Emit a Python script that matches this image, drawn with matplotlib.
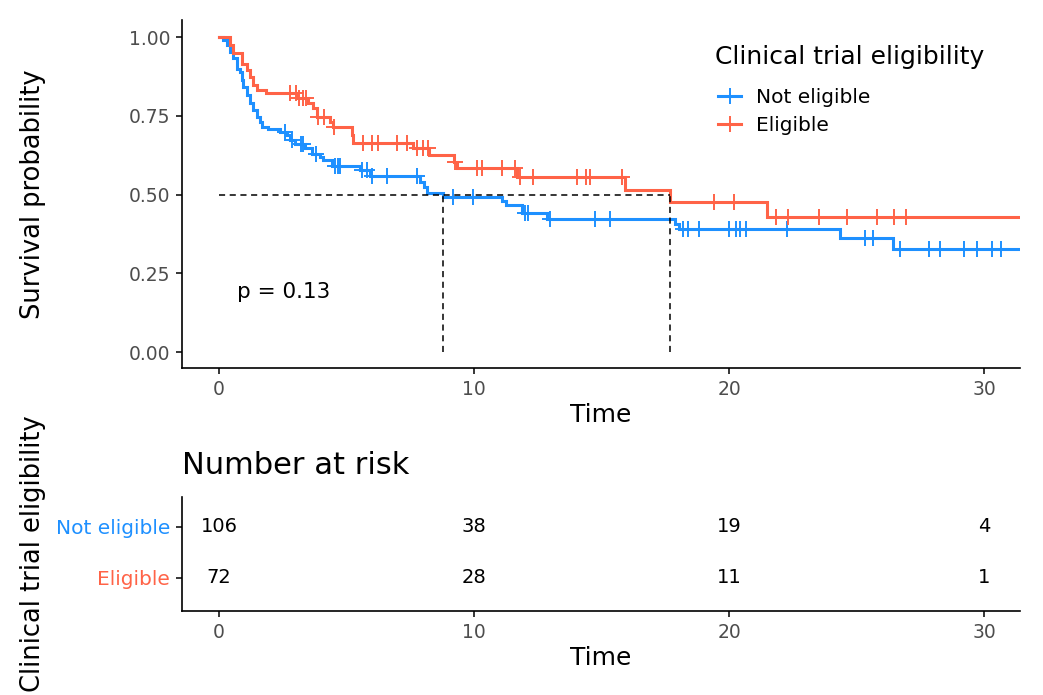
import matplotlib
matplotlib.use("Agg")
import matplotlib.pyplot as plt
from matplotlib.lines import Line2D
import numpy as np

plt.rcParams['font.family'] = ['DejaVu Sans']

# Kaplan-Meier step data: (time of drop, survival after drop)
ne_times = [0.17, 0.3, 0.43, 0.56, 0.69, 0.82, 0.89, 0.95, 1.08, 1.22, 1.35, 1.48, 1.61,
            1.67, 1.93, 2.39, 2.65, 2.78, 2.98, 3.37, 3.63, 3.96, 4.09, 4.42, 5.53, 5.92,
            7.88, 8.02, 8.15, 8.8, 11.08, 11.27, 11.87, 12.85, 17.88, 18.05, 24.35, 26.42]
ne_surv = [0.99, 0.975, 0.953, 0.932, 0.90, 0.89, 0.864, 0.842, 0.816, 0.79, 0.768, 0.747, 0.731,
           0.716, 0.707, 0.70, 0.689, 0.673, 0.66, 0.647, 0.63, 0.62, 0.61, 0.59, 0.578, 0.559,
           0.54, 0.525, 0.506, 0.494, 0.481, 0.467, 0.443, 0.424, 0.408, 0.392, 0.364, 0.329]
ne_censor = [2.59, 2.85, 3.2, 3.3, 3.8, 4.55, 4.65, 4.75, 5.6, 5.8, 6.0, 6.57, 7.75, 9.19, 9.97,
             12.0, 12.13, 12.98, 14.75, 15.33, 18.2, 18.4, 18.83, 20.0, 20.27, 20.43, 20.67,
             22.26, 25.33, 25.63, 26.68, 27.82, 28.27, 29.2, 29.71, 30.3, 30.67]

el_times = [0.43, 0.56, 0.89, 1.08, 1.22, 1.35, 1.48, 1.84, 3.05, 3.5, 3.7, 3.83, 4.35, 4.48,
            5.2, 5.26, 7.6, 8.24, 9.2, 9.32, 11.67, 15.92, 17.69, 21.47]
el_surv = [0.975, 0.948, 0.916, 0.895, 0.874, 0.848, 0.832, 0.821, 0.805, 0.792, 0.774, 0.747,
           0.731, 0.713, 0.689, 0.665, 0.647, 0.625, 0.604, 0.583, 0.557, 0.516, 0.477, 0.43]
el_censor = [2.78, 3.0, 3.15, 3.3, 3.4, 3.9, 4.1, 4.5, 5.66, 5.99, 6.25, 6.97, 7.36, 7.75, 8.01,
             8.2, 9.25, 10.1, 10.3, 11.08, 11.6, 11.8, 12.3, 14.03, 14.4, 14.55, 15.8, 19.42,
             20.2, 21.84, 22.29, 23.53, 24.61, 25.79, 26.47, 26.94]

medians = [8.8, 17.69]
groups = ["Not eligible", "Eligible"]
colors = ["#1E90FF", "#FF6347"]

risk_times = [0, 10, 20, 30]
risk_ne = [106, 38, 19, 4]
risk_el = [72, 28, 11, 1]

W, H = 1043, 695
fig = plt.figure(figsize=(W / 100, H / 100), dpi=100)
ax = fig.add_axes([182 / W, 1 - 368 / H, 838 / W, 348 / H])
ax2 = fig.add_axes([182 / W, 1 - 611 / H, 838 / W, 114 / H])

xmax = 31.4
tick_col = "#4D4D4D"


def surv_at(t, times, surv):
    idx = np.searchsorted(times, t, side="right")
    vals = np.concatenate([[1.0], surv])
    return vals[idx]


curves = [(ne_times, ne_surv, ne_censor), (el_times, el_surv, el_censor)]
for (tt, ss, cc), col in zip(curves, colors):
    x = [0] + tt + [33]
    y = [1.0] + ss + [ss[-1]]
    ax.step(x, y, where="post", color=col, lw=2.2, solid_joinstyle="miter")
    cy = surv_at(np.array(cc), np.array(tt), np.array(ss))
    ax.plot(cc, cy, ls="none", marker="+", ms=11, mew=1.4, color=col)

# median lines
ax.plot([0, max(medians)], [0.5, 0.5], ls=(0, (4, 3)), color="black", lw=1.1)
for m in medians:
    ax.plot([m, m], [0, 0.5], ls=(0, (4, 3)), color="black", lw=1.1)

ax.text(0.7, 0.19, "p = 0.13", fontsize=15.5, va="center", ha="left")

ax.set_xlim(-1.45, xmax)
ax.set_ylim(-0.05, 1.054)
ax.set_xticks([0, 10, 20, 30])
ax.set_yticks([0, 0.25, 0.5, 0.75, 1.0])
ax.set_yticklabels(["0.00", "0.25", "0.50", "0.75", "1.00"])
ax.set_xlabel("Time", fontsize=18, labelpad=3)

for a in (ax, ax2):
    for s in ("top", "right"):
        a.spines[s].set_visible(False)
    for s in ("left", "bottom"):
        a.spines[s].set_linewidth(1.2)
    a.tick_params(length=4.5, width=1.1, labelsize=13.5, labelcolor=tick_col, pad=4)

# legend: title drawn separately so the spacing can follow the reference
fig.text(715 / W, 1 - 57 / H, "Clinical trial eligibility", fontsize=18, ha="left", va="center")
handles = [Line2D([], [], color=c, marker="+", ms=11, mew=1.4, lw=2.2) for c in colors]
leg = fig.legend(handles, groups, loc="upper left", bbox_to_anchor=(708 / W, 1 - 78 / H),
                 frameon=False, fontsize=14.5, handlelength=1.15, handletextpad=0.75,
                 labelspacing=0.45, borderpad=0)

fig.text(33 / W, 1 - 194 / H, "Survival probability", rotation=90, fontsize=18.5,
         ha="center", va="center")

# risk table
for row, (vals, col) in enumerate([(risk_el, colors[1]), (risk_ne, colors[0])]):
    for t, v in zip(risk_times, vals):
        ax2.text(t, row, str(v), ha="center", va="center", fontsize=14, color="black")
ax2.set_xlim(-1.45, xmax)
ax2.set_ylim(-0.647, 1.588)
ax2.set_xticks([0, 10, 20, 30])
ax2.set_yticks([0, 1])
ax2.set_yticklabels(["Eligible", "Not eligible"])
for lab, col in zip(ax2.get_yticklabels(), [colors[1], colors[0]]):
    lab.set_color(col)
    lab.set_fontsize(14.5)
ax2.set_xlabel("Time", fontsize=18, labelpad=3)
fig.text(182 / W, 1 - 466 / H, "Number at risk", fontsize=22, ha="left", va="center")
fig.text(33 / W, 1 - 554 / H, "Clinical trial eligibility", rotation=90, fontsize=18.5,
         ha="center", va="center")

fig.savefig("out.png", dpi=100)
